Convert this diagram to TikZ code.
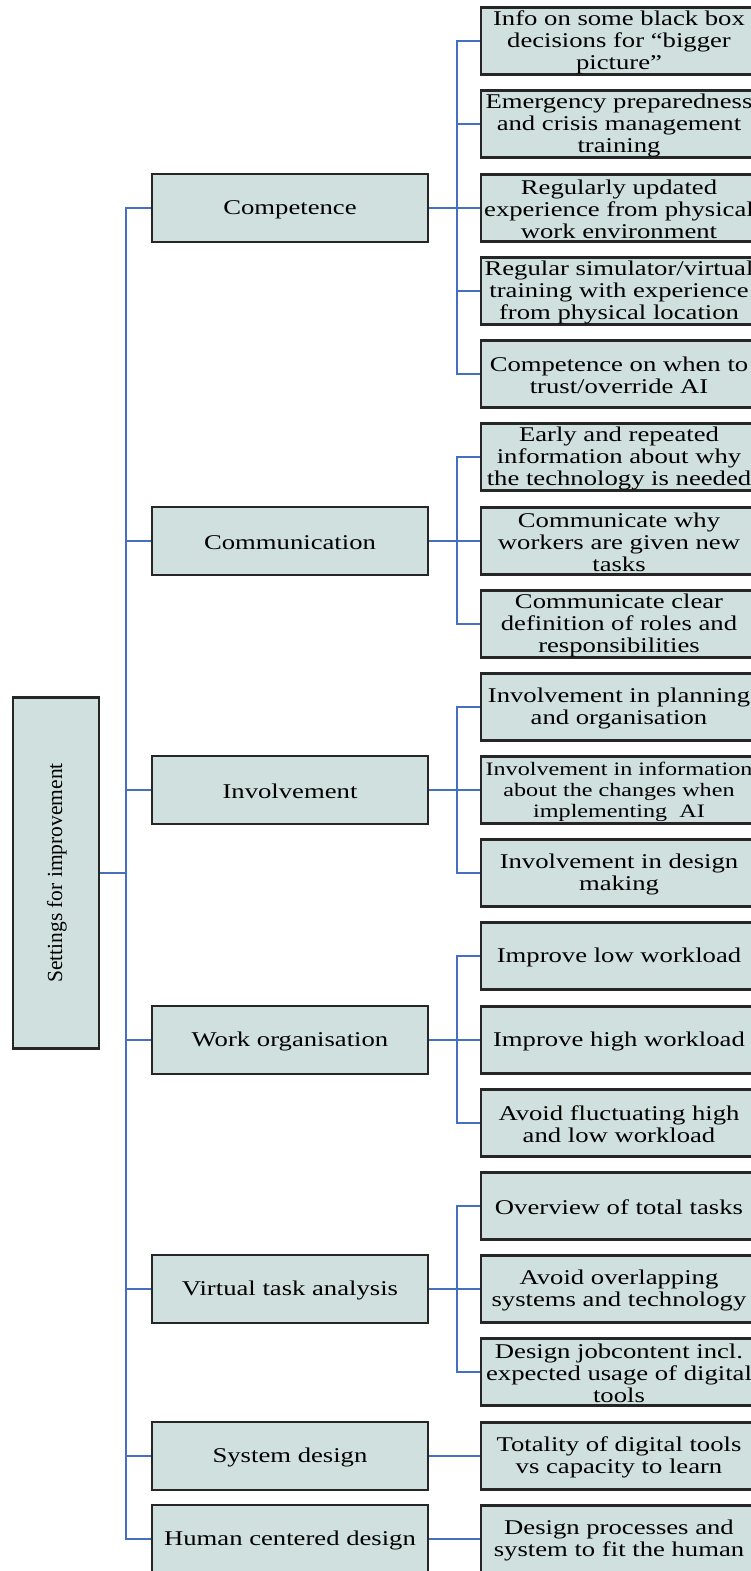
\documentclass[tikz,border=0pt]{standalone}
\usepackage{fontspec}
\setmainfont{Liberation Serif}
\newfontfamily\widefont[FakeStretch=1.27]{Liberation Serif}
\definecolor{boxfill}{RGB}{207,224,222}
\definecolor{linkblue}{RGB}{68,112,190}
% a framed box (named #3, style #2, centre #4) whose text #5 sits a little low
\newcommand\boxnode[5][]{%
  \node[#2] (#3) at #4 {};
  \node[boxtext,#1] at ([yshift=-1.5pt]#3.center) {#5};}
\begin{document}
\begin{tikzpicture}[x=1pt,y=-1pt,
  box/.style={draw=black!85,line width=2.2pt,fill=boxfill,inner sep=0pt},
  boxtext/.style={inner sep=0pt,align=center,font=\widefont\fontsize{21}{22}\selectfont},
  midbox/.style={box,minimum width=276pt,minimum height=68pt},
  leafbox/.style={box,minimum width=276pt,minimum height=67pt},
  rootbox/.style={box,minimum width=86pt,minimum height=351pt},
  link/.style={draw=linkblue,line width=2.4pt}]
\useasboundingbox (0,0) rectangle (751,1571);
\begin{scope}
\clip (0,0) rectangle (751,1571);

% root
\node[rootbox] (root) at (56,873) {};
\node[rotate=90,font=\fontsize{21.5}{23}\selectfont] at ([xshift=1pt]root.center) {Settings for improvement};

% middle level
\boxnode{midbox}{m1}{(290,208)}{Competence}
\boxnode{midbox}{m2}{(290,541)}{Communication}
\boxnode{midbox}{m3}{(290,790)}{Involvement}
\boxnode{midbox}{m4}{(290,1040)}{Work organisation}
\boxnode{midbox}{m5}{(290,1289)}{Virtual task analysis}
\boxnode{midbox}{m6}{(290,1456)}{System design}
\boxnode{midbox}{m7}{(290,1539)}{Human centered design}

% leaves
\boxnode{leafbox}{a1}{(619,41)}{Info on some black box\\decisions for “bigger\\picture”}
\boxnode{leafbox}{a2}{(619,124)}{Emergency preparedness\\and crisis management\\training}
\boxnode{leafbox}{a3}{(619,208)}{Regularly updated\\experience from physical\\work environment}
\boxnode{leafbox}{a4}{(619,291)}{Regular simulator/virtual\\training with experience\\from physical location}
\boxnode{leafbox}{a5}{(619,374)}{Competence on when to\\trust/override AI}

\boxnode{leafbox}{b1}{(619,457)}{Early and repeated\\information about why\\the technology is needed}
\boxnode{leafbox}{b2}{(619,541)}{Communicate why\\workers are given new\\tasks}
\boxnode{leafbox}{b3}{(619,624)}{Communicate clear\\definition of roles and\\responsibilities}

\boxnode{leafbox}{c1}{(619,707)}{Involvement in planning\\and organisation}
\boxnode[font=\widefont\fontsize{19}{21}\selectfont]{leafbox}{c2}{(619,790)}{Involvement in information\\about the changes when\\implementing\ \ AI}
\boxnode{leafbox}{c3}{(619,873)}{Involvement in design\\making}

\boxnode{leafbox}{d1}{(619,956)}{Improve low workload}
\boxnode{leafbox}{d2}{(619,1040)}{Improve high workload}
\boxnode{leafbox}{d3}{(619,1123)}{Avoid fluctuating high\\and low workload}

\boxnode{leafbox}{e1}{(619,1206)}{Overview of total tasks}
\boxnode{leafbox}{e2}{(619,1289)}{Avoid overlapping\\systems and technology}
\boxnode{leafbox}{e3}{(619,1372)}{Design jobcontent incl.\\expected usage of digital\\tools}

\boxnode{leafbox}{f1}{(619,1456)}{Totality of digital tools\\vs capacity to learn}
\boxnode{leafbox}{g1}{(619,1539)}{Design processes and\\system to fit the human}

% trunk from the root to every category
\foreach \m in {m1,m2,m3,m4,m5,m6,m7}
  \draw[link] (root.east) -- (126,873) |- (\m.west);

% category branches
\foreach \m/\l in {m1/a1,m1/a2,m1/a3,m1/a4,m1/a5,m2/b1,m2/b2,m2/b3,
                   m3/c1,m3/c2,m3/c3,m4/d1,m4/d2,m4/d3,m5/e1,m5/e2,m5/e3}
  \draw[link] (\m.east) -- ++(28,0) |- (\l.west);
\draw[link] (m6.east) -- (f1.west);
\draw[link] (m7.east) -- (g1.west);
\end{scope}
\end{tikzpicture}
\end{document}
